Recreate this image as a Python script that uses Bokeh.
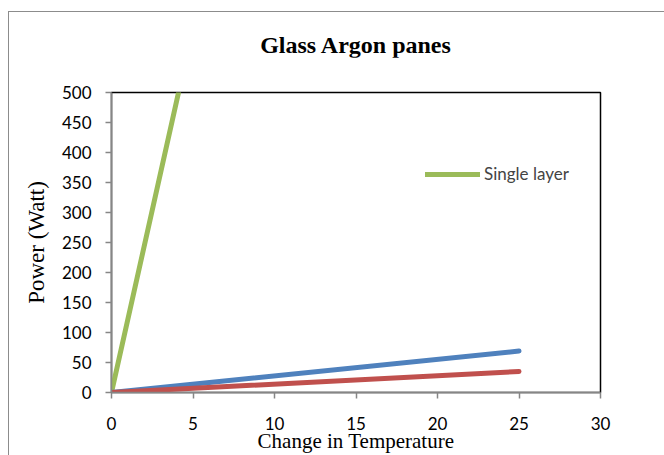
from bokeh.plotting import figure
from bokeh.models import Legend, LegendItem, Range1d, SingleIntervalTicker, Div
from bokeh.layouts import column
from bokeh.embed import file_html
from bokeh.resources import INLINE

# data
delta_t = [0, 25]
single_layer = [0, 3040]
double_layer = [0, 69]
triple_layer = [0, 35]
title_text = "Glass Argon panes"
x_label = "Change in Temperature"
y_label = "Power (Watt)"

title_div = Div(text=f'<div style="padding-top:21px; line-height:24px;">{title_text}</div>',
                width=655, height=45, margin=(0, 0, 0, 0),
                styles={"font-family": "'Liberation Serif', serif", "font-size": "24px",
                        "font-weight": "bold", "color": "black", "text-align": "center",
                        "text-indent": "19px"})

p = figure(width=655, height=398, output_backend="svg", toolbar_location=None,
           x_range=Range1d(0, 30), y_range=Range1d(0, 500),
           min_border_left=102, min_border_right=64, min_border_top=35, min_border_bottom=63,
           margin=(0, 0, 0, 0))
p.title.visible = False

p.xgrid.visible = False
p.ygrid.visible = False
p.outline_line_color = "black"
p.outline_line_width = 1.5

for ax in (p.xaxis[0], p.yaxis[0]):
    ax.axis_line_color = "#868686"
    ax.axis_line_width = 1.5
    ax.major_tick_line_color = "#868686"
    ax.major_tick_line_width = 1.5
    ax.major_tick_out = 6
    ax.major_tick_in = 0
    ax.minor_tick_line_color = None
    ax.major_label_text_font = "Lato"
    ax.major_label_text_font_size = "17px"
    ax.major_label_text_color = "black"
    ax.axis_label_text_font = "Liberation Serif"
    ax.axis_label_text_font_size = "21px"
    ax.axis_label_text_font_style = "normal"
    ax.axis_label_text_color = "black"

p.xaxis.major_label_standoff = 18
p.yaxis.major_label_standoff = 14
p.xaxis.axis_label_standoff = -4
p.yaxis.axis_label_standoff = 10
p.yaxis.axis_label_text_font_size = "23px"

p.xaxis.ticker = SingleIntervalTicker(interval=5)
p.yaxis.ticker = SingleIntervalTicker(interval=50)
p.xaxis.axis_label = x_label
p.yaxis.axis_label = y_label

g = p.line(delta_t, single_layer, line_color="#9BBB59", line_width=5, line_cap="round")
p.line(delta_t, double_layer, line_color="#4F81BD", line_width=5, line_cap="round")
p.line(delta_t, triple_layer, line_color="#C0504D", line_width=5, line_cap="round")

legend = Legend(items=[LegendItem(label="Single layer", renderers=[g])],
                location=(314, 208), border_line_color=None, background_fill_alpha=0,
                glyph_width=55, label_standoff=4,
                label_text_font="Lato", label_text_font_size="17px")
p.add_layout(legend, "center")

layout = column(title_div, p, spacing=0,
                styles={"margin-left": "8px", "margin-top": "11px",
                        "border-left": "1px solid #8c8c8c", "border-top": "1px solid #8c8c8c"})

open("out.html", "w").write(file_html(layout, INLINE))
